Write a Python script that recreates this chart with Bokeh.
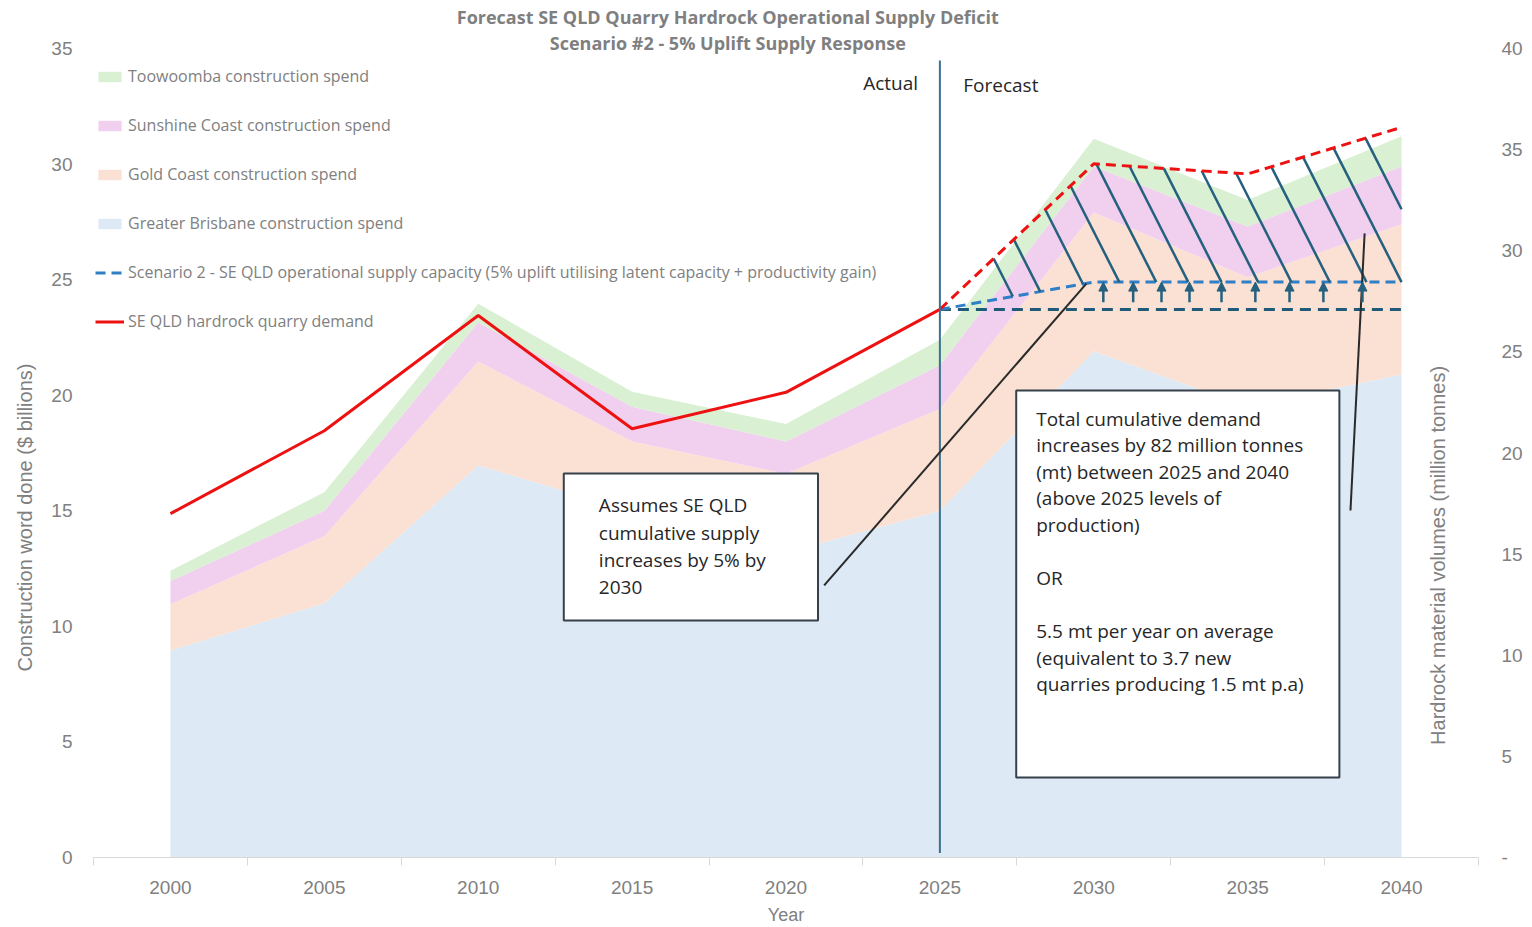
import numpy as np
from bokeh.plotting import figure
from bokeh.models import (Range1d, LinearAxis, FixedTicker, Legend, LegendItem, Label, Title,
                          Arrow, NormalHead, ColumnDataSource)
from bokeh.core.properties import value
from bokeh.embed import file_html
from bokeh.resources import INLINE

# ---------------- data ----------------
years = [2000, 2005, 2010, 2015, 2020, 2025, 2030, 2035, 2040]
brisbane = [8.96, 11.0, 16.96, 15.0, 13.2, 15.0, 21.9, 19.5, 20.9]
gold_coast = [2.0, 2.9, 4.5, 3.0, 3.4, 4.4, 6.0, 5.6, 6.5]
sunshine_coast = [1.0, 1.1, 1.7, 1.5, 1.4, 1.9, 2.0, 2.2, 2.5]
toowoomba = [0.45, 0.8, 0.8, 0.65, 0.75, 1.1, 1.2, 1.15, 1.3]

demand_actual_years = [2000, 2005, 2010, 2015, 2020, 2025]
demand_actual = [17.0, 21.1, 26.8, 21.2, 23.0, 27.1]
demand_forecast_years = [2025, 2030, 2035, 2040]
demand_forecast = [27.1, 34.3, 33.8, 36.1]

supply_years = [2025, 2030, 2035, 2040]
supply = [27.1, 28.45, 28.45, 28.45]

x_ticks = [2000, 2005, 2010, 2015, 2020, 2025, 2030, 2035, 2040]
left_ticks = [0, 5, 10, 15, 20, 25, 30, 35]
right_ticks = [0, 5, 10, 15, 20, 25, 30, 35, 40]

# deficit hatch: where each hatch stroke meets the supply line, and arrow positions
hatch_end_years = [2027.37, 2028.26, 2029.65, 2030.83, 2032.03, 2033.07, 2034.15,
                   2035.34, 2036.42, 2037.67, 2038.86, 2040.0, 2041.2]
arrow_years = [2030.31, 2031.28, 2032.2, 2033.11, 2034.15, 2035.25, 2036.36, 2037.46, 2038.73]

title_1 = "Forecast SE QLD Quarry Hardrock Operational Supply Deficit"
title_2 = "Scenario #2 - 5% Uplift Supply Response"
box1_lines = ["Assumes SE QLD", "cumulative supply", "increases by 5% by", "2030"]
box2_lines = ["Total cumulative demand", "increases by 82 million tonnes",
              "(mt) between 2025 and 2040", "(above 2025 levels of", "production)", "",
              "OR", "", "5.5 mt  per year on average", "(equivalent to 3.7 new",
              "quarries producing 1.5 mt p.a)"]

# ---------------- styles ----------------
C_TOO = "#d9f0d3"
C_SUN = "#f0d0ee"
C_GOLD = "#fbe1d3"
C_BRIS = "#dde9f5"
C_RED = "#ee1111"
C_BLUE = "#2e7fc5"
C_DARK = "#1f5a78"
C_HATCH = "#25607e"
GRAY = "#808080"
TXT = "#262626"

LEFT_MAX = 35.0
RIGHT_MAX = 40.0
FRAME_H = 857
PX_PER_UNIT = 809 / LEFT_MAX
Y_TOP = FRAME_H / PX_PER_UNIT          # frame reaches the top of the page (room for the titles)
Y_TOP_R = RIGHT_MAX * Y_TOP / LEFT_MAX

p = figure(frame_width=1385, frame_height=FRAME_H,
           x_range=Range1d(1997.5, 2042.5), y_range=Range1d(0, Y_TOP),
           output_backend="svg", toolbar_location=None,
           min_border_left=93, min_border_right=52, min_border_top=0, min_border_bottom=64)
p.extra_y_ranges = {"right": Range1d(0, Y_TOP_R)}
p.outline_line_color = None
p.xgrid.visible = False
p.ygrid.visible = False
p.background_fill_color = "white"
p.border_fill_color = "white"

# axes
xa = p.xaxis[0]
xa.ticker = FixedTicker(ticks=x_ticks, minor_ticks=[t - 2.5 for t in x_ticks] + [x_ticks[-1] + 2.5])
xa.major_tick_line_color = None
xa.major_tick_out = 0
xa.major_tick_in = 0
xa.minor_tick_out = 8
xa.minor_tick_in = 0
xa.minor_tick_line_color = "#d9d9d9"
xa.axis_line_color = "#d9d9d9"
xa.major_label_standoff = 15
xa.major_label_text_font = "Liberation Sans"
xa.major_label_text_font_size = "19px"
xa.major_label_text_color = GRAY
xa.axis_label = "Year"
xa.axis_label_standoff = 8
xa.axis_label_text_font = "Liberation Sans"
xa.axis_label_text_font_size = "18px"
xa.axis_label_text_font_style = "normal"
xa.axis_label_text_color = GRAY

ya = p.yaxis[0]
ya.ticker = FixedTicker(ticks=left_ticks)
ya.axis_line_color = None
ya.major_tick_line_color = None
ya.minor_tick_line_color = None
ya.major_tick_out = 0
ya.major_label_standoff = 21
ya.major_label_text_font = "Liberation Sans"
ya.major_label_text_font_size = "19px"
ya.major_label_text_color = GRAY

ra = LinearAxis(y_range_name="right", ticker=FixedTicker(ticks=right_ticks),
                major_label_overrides={0: "-"})
ra.axis_line_color = None
ra.major_tick_line_color = None
ra.minor_tick_line_color = None
ra.major_tick_out = 0
ra.major_label_standoff = 23
ra.major_label_text_font = "Liberation Sans"
ra.major_label_text_font_size = "19px"
ra.major_label_text_color = GRAY
p.add_layout(ra, "right")

# left axis title, placed in the left panel
p.add_layout(Title(text="Construction word done ($ billions)", align="left", offset=186,
                   standoff=23, vertical_align="middle", text_font="Liberation Sans",
                   text_font_size="20px", text_font_style="normal", text_color=GRAY), "left")

# stacked areas
src = ColumnDataSource(dict(year=years, bris=brisbane, gold=gold_coast, sun=sunshine_coast, too=toowoomba))
areas = p.varea_stack(stackers=["bris", "gold", "sun", "too"], x="year", source=src,
                      color=[C_BRIS, C_GOLD, C_SUN, C_TOO])

# supply lines
base_level = supply[0]
r_base = p.line([supply_years[0], supply_years[-1]], [base_level, base_level], y_range_name="right",
                line_color=C_DARK, line_width=3, line_dash="11 7")
r_supply = p.line(supply_years, supply, y_range_name="right",
                  line_color=C_BLUE, line_width=3, line_dash="10 6")

# hatch strokes from demand down to supply
slope = 3.0
grid = np.linspace(demand_forecast_years[0], demand_forecast_years[-1], 6001)
dem_grid = np.interp(grid, demand_forecast_years, demand_forecast)
hx0, hy0, hx1, hy1 = [], [], [], []
for xe in hatch_end_years:
    ye = float(np.interp(xe, supply_years, supply))
    line = ye + slope * (xe - grid)
    mask = (grid <= xe) & (line >= dem_grid)
    xs = float(grid[mask].max())
    ys = ye + slope * (xe - xs)
    if xe > supply_years[-1]:
        ye = ye + slope * (xe - supply_years[-1])
        xe = supply_years[-1]
    hx0.append(xs); hy0.append(ys); hx1.append(xe); hy1.append(ye)
p.segment(hx0, hy0, hx1, hy1, y_range_name="right", line_color=C_HATCH, line_width=2.5)

# demand
r_dem = p.line(demand_actual_years, demand_actual, y_range_name="right", line_color=C_RED, line_width=3)
p.line(demand_forecast_years, demand_forecast, y_range_name="right", line_color=C_RED,
       line_width=3, line_dash="10 6")

# arrows
asrc = ColumnDataSource(dict(x0=arrow_years, y0=[base_level + 0.35] * len(arrow_years),
                             x1=arrow_years, y1=list(np.interp(arrow_years, supply_years, supply))))
p.add_layout(Arrow(source=asrc, x_start="x0", y_start="y0", x_end="x1", y_end="y1",
                   y_range_name="right", line_color=C_HATCH, line_width=2.5,
                   end=NormalHead(size=9, fill_color=C_HATCH, line_color=C_HATCH)))

# actual / forecast divider
p.segment([2025], [0.2], [2025], [34.48], line_color="#3b7190", line_width=2)
p.add_layout(Label(x=2024.29, y=33.49, text="Actual", text_align="right", text_baseline="middle",
                   text_font="Open Sans", text_font_size="19px", text_color=TXT))
p.add_layout(Label(x=2025.76, y=33.40, text="Forecast", text_align="left", text_baseline="middle",
                   text_font="Open Sans", text_font_size="19px", text_color=TXT))

# connectors
p.segment([2021.24, 2038.34], [11.77, 15.01], [2029.76, 2038.80], [24.83, 27.0],
          line_color="#2a2a2a", line_width=2)

# callout boxes
p.quad(left=[2012.78, 2027.48], right=[2021.04, 2037.98], top=[16.61, 20.20], bottom=[10.25, 3.46],
       fill_color="white", line_color="#36414c", line_width=2)
b1y = [15.23 - i * 1.18 for i in range(len(box1_lines))]
p.text(x=[2013.92] * len(box1_lines), y=b1y, text=box1_lines, text_font=value("Open Sans"),
       text_font_size=value("19px"), text_color=TXT, text_baseline="middle", text_align="left")
b2y = [18.99 - i * 1.15 for i in range(len(box2_lines))]
p.text(x=[2028.13] * len(box2_lines), y=b2y, text=box2_lines, text_font=value("Open Sans"),
       text_font_size=value("19px"), text_color=TXT, text_baseline="middle", text_align="left")

# chart titles
p.add_layout(Label(x=2018.11, y=36.38, text=title_1, text_align="center", text_baseline="middle",
                   text_font="Open Sans", text_font_size="18px", text_font_style="bold", text_color="#7f7f7f"))
p.add_layout(Label(x=2018.11, y=35.22, text=title_2, text_align="center", text_baseline="middle",
                   text_font="Open Sans", text_font_size="18px", text_font_style="bold", text_color="#7f7f7f"))
# right axis title
p.add_layout(Label(x=2041.2, y=13.07, text="Hardrock material volumes (million tonnes)", angle=np.pi / 2,
                   text_align="center", text_baseline="middle",
                   text_font="Liberation Sans", text_font_size="20px", text_color=GRAY))

# legend
items = [
    LegendItem(label="Toowoomba construction spend", renderers=[areas[3]]),
    LegendItem(label="Sunshine Coast construction spend", renderers=[areas[2]]),
    LegendItem(label="Gold Coast construction spend", renderers=[areas[1]]),
    LegendItem(label="Greater Brisbane construction spend", renderers=[areas[0]]),
    LegendItem(label="Scenario 2 - SE QLD operational supply capacity (5% uplift utilising latent capacity + productivity gain)",
               renderers=[r_supply]),
    LegendItem(label="SE QLD hardrock quarry demand", renderers=[r_dem]),
]
legend = Legend(items=items, location=(2, 524), orientation="vertical",
                glyph_width=29, glyph_height=13, label_height=24, spacing=25,
                padding=0, margin=0, border_line_color=None, background_fill_alpha=0,
                label_standoff=4, label_text_font="Open Sans", label_text_font_size="16px",
                label_text_color=GRAY)
p.add_layout(legend)

open("out.html", "w").write(file_html(p, INLINE))
